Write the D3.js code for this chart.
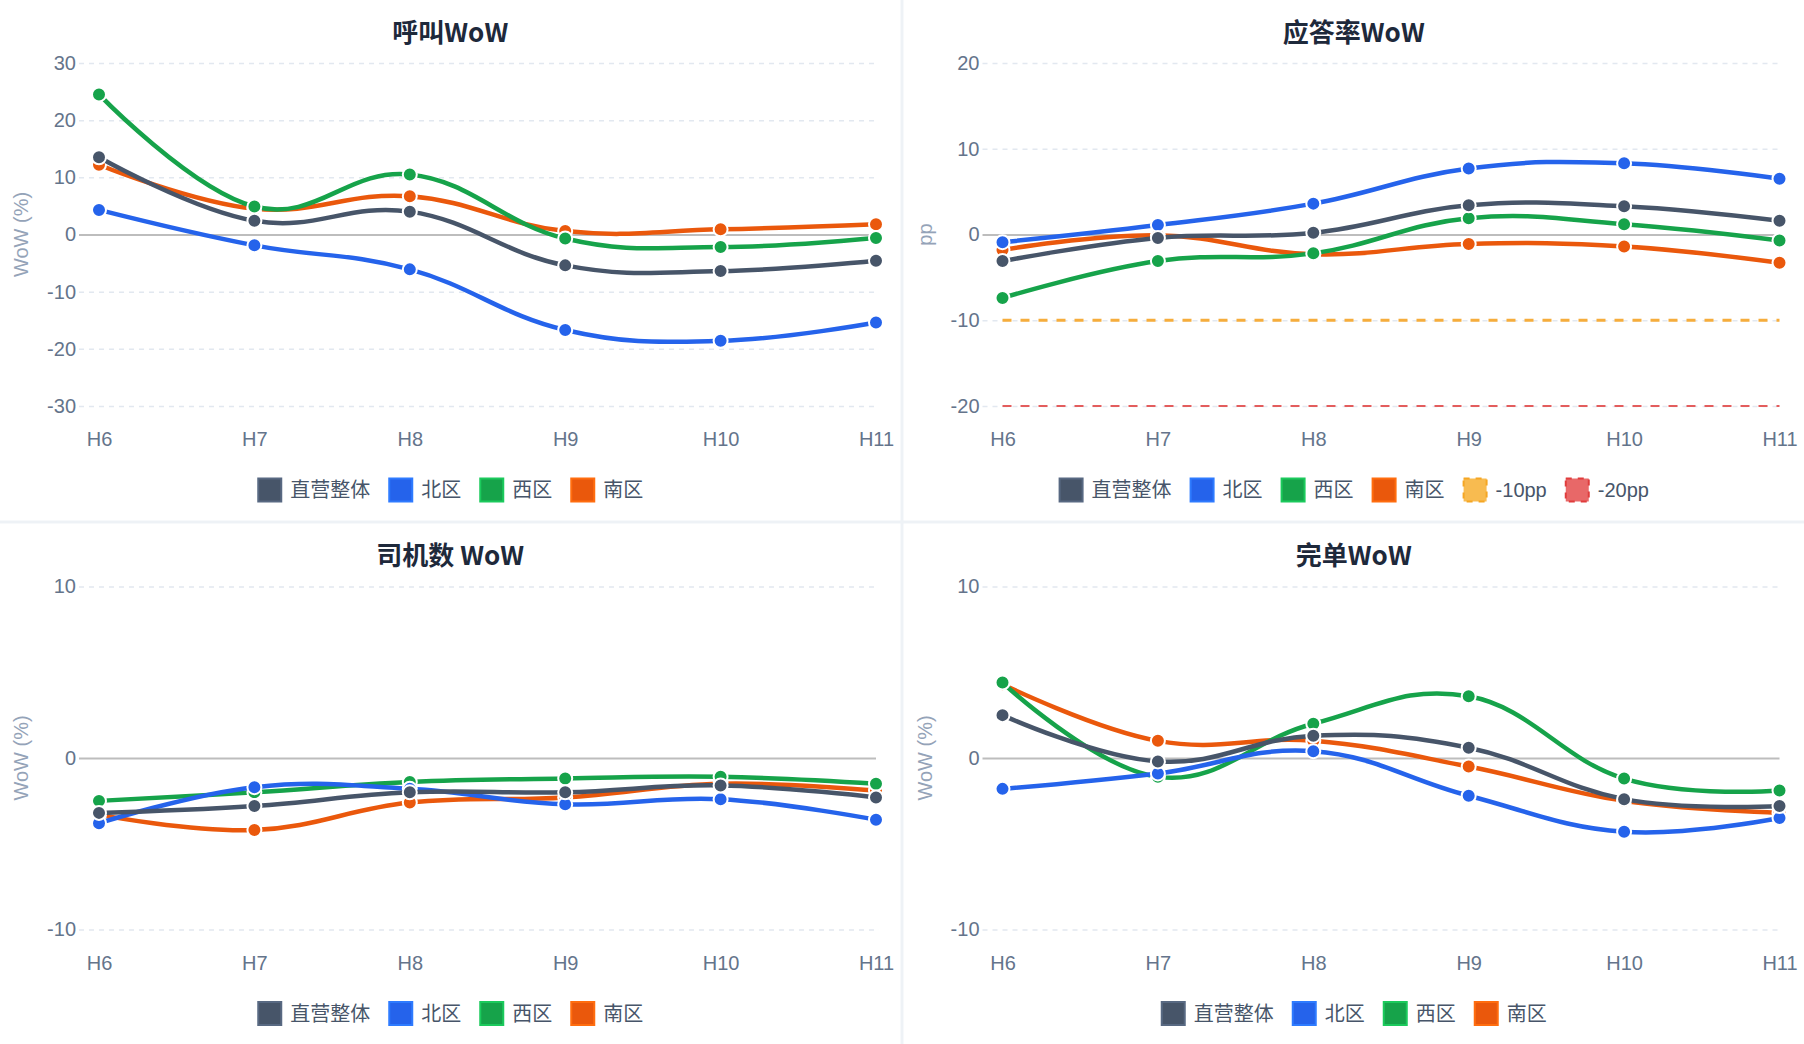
<!DOCTYPE html>
<html>
<head>
<meta charset="utf-8">
<script src="https://cdn.jsdelivr.net/npm/d3@7"></script>
<style>
  html, body { margin: 0; padding: 0; background: #eef2f6; }
  svg { display: block; }
  .tick text { font-family: "Liberation Sans", Arial, sans-serif; font-size: 20px; fill: #64748b; }
</style>
</head>
<body>
<svg id="board" width="1804" height="1044"></svg>
<script>
// categories and series
const hours = ["H6", "H7", "H8", "H9", "H10", "H11"];
const regions = ["直营整体", "北区", "西区", "南区"];
const regionColors = ["#475569", "#2563eb", "#16a34a", "#ea580c"];

// 呼叫WoW (%)
const callOverall = [13.5, 2.4, 4.0, -5.4, -6.4, -4.6];
const callNorth   = [4.3, -1.9, -6.1, -16.7, -18.6, -15.4];
const callWest    = [24.5, 4.9, 10.5, -0.7, -2.2, -0.6];
const callSouth   = [12.2, 4.5, 6.7, 0.6, 0.9, 1.8];

// 应答率WoW (pp)
const answerOverall = [-3.1, -0.4, 0.2, 3.4, 3.3, 1.6];
const answerNorth   = [-0.9, 1.1, 3.6, 7.7, 8.3, 6.5];
const answerWest    = [-7.4, -3.1, -2.2, 1.9, 1.2, -0.7];
const answerSouth   = [-1.8, -0.1, -2.3, -1.1, -1.4, -3.3];
const answerThresholds = [-10, -20];
const thresholdLabels = ["-10pp", "-20pp"];

// 司机数 WoW (%)
const driverOverall = [-3.2, -2.8, -2.0, -2.0, -1.6, -2.3];
const driverNorth   = [-3.8, -1.7, -1.8, -2.7, -2.4, -3.6];
const driverWest    = [-2.5, -2.0, -1.4, -1.2, -1.1, -1.5];
const driverSouth   = [-3.3, -4.2, -2.6, -2.3, -1.5, -1.9];

// 完单WoW (%)
const doneOverall = [2.5, -0.2, 1.3, 0.6, -2.4, -2.8];
const doneNorth   = [-1.8, -0.9, 0.4, -2.2, -4.3, -3.5];
const doneWest    = [4.4, -1.1, 2.0, 3.6, -1.2, -1.9];
const doneSouth   = [4.3, 1.0, 1.0, -0.5, -2.5, -3.2];

const yTicksWide = [-30, -20, -10, 0, 10, 20, 30];
const yTicksMid = [-20, -10, 0, 10, 20];
const yTicksNarrow = [-10, 0, 10];

const panels = [
  { title: "呼叫WoW", yLabel: "WoW (%)", ticks: yTicksWide,
    series: [callOverall, callNorth, callWest, callSouth] },
  { title: "应答率WoW", yLabel: "pp", ticks: yTicksMid,
    series: [answerOverall, answerNorth, answerWest, answerSouth], thresholds: true },
  { title: "司机数 WoW", yLabel: "WoW (%)", ticks: yTicksNarrow,
    series: [driverOverall, driverNorth, driverWest, driverSouth] },
  { title: "完单WoW", yLabel: "WoW (%)", ticks: yTicksNarrow,
    series: [doneOverall, doneNorth, doneWest, doneSouth] }
];

const thresholdStyles = [
  { stroke: "#f6ad3c", width: 3, fill: "#f8bb50", border: "#f5a623" },
  { stroke: "#e35d5d", width: 2, fill: "#e86868", border: "#e03c3c" }
];

const W = 1804, H = 1044, gap = 3;
const pw = (W - gap) / 2, ph = (H - gap) / 2;

const svg = d3.select("#board");

panels.forEach((p, i) => {
  let col = i % 2, row = Math.floor(i / 2);
  let g = svg.append("g")
    .attr("transform", `translate(${col * (pw + gap)}, ${row * (ph + gap)})`);
  drawPanel(g, p);
});

function drawPanel(g, p) {
  g.append("rect").attr("width", pw).attr("height", ph).attr("fill", "#fff");

  let x = d3.scalePoint().domain(hours).range([99, 876]);
  let y = d3.scaleLinear()
    .domain(d3.extent(p.ticks))
    .range([406, 63]);

  // title
  g.append("text")
    .attr("x", pw / 2).attr("y", 30)
    .attr("text-anchor", "middle").attr("dominant-baseline", "central")
    .style("font-family", '"Noto Sans CJK SC", sans-serif')
    .style("font-size", "26px").style("font-weight", "bold")
    .style("fill", "#1e293b")
    .text(p.title);

  // y axis + grid
  let yAxis = d3.axisLeft(y).tickValues(p.ticks)
    .tickFormat(d => String(d))
    .tickSize(-(876 - 79)).tickPadding(3);
  let yg = g.append("g").attr("transform", "translate(79, 0)").call(yAxis);
  yg.select(".domain").remove();
  yg.selectAll(".tick line")
    .attr("stroke", "#e2e8f0").attr("stroke-width", 1.5)
    .attr("stroke-dasharray", "5 5");
  yg.selectAll(".tick").filter(d => d === 0).select("line")
    .attr("stroke", "#bdbdbd").attr("stroke-width", 2)
    .attr("stroke-dasharray", null);

  // y title
  g.append("text")
    .attr("transform", `translate(21, ${(63 + 406) / 2}) rotate(-90)`)
    .attr("text-anchor", "middle").attr("dominant-baseline", "central")
    .style("font-family", '"Liberation Sans", Arial, sans-serif')
    .style("font-size", "20px").style("fill", "#94a3b8")
    .text(p.yLabel);

  // x axis
  let xAxis = d3.axisBottom(x).tickSize(0).tickPadding(0);
  let xg = g.append("g").attr("transform", "translate(0, 439)").call(xAxis);
  xg.select(".domain").remove();
  xg.selectAll(".tick text").attr("y", 0).attr("dy", "0.35em");

  // threshold lines
  if (p.thresholds) {
    answerThresholds.forEach((t, k) => {
      g.append("line")
        .attr("x1", x(hours[0])).attr("x2", x(hours[hours.length - 1]))
        .attr("y1", y(t)).attr("y2", y(t))
        .attr("stroke", thresholdStyles[k].stroke)
        .attr("stroke-width", thresholdStyles[k].width)
        .attr("stroke-dasharray", "9 9");
    });
  }

  // series: draw last first so the first one sits on top
  let line = d3.line()
    .x((d, i) => x(hours[i]))
    .y(d => y(d))
    .curve(d3.curveCardinal.tension(-0.2));

  for (let s = p.series.length - 1; s >= 0; s--) {
    let values = p.series[s];
    let sg = g.append("g");
    sg.append("path")
      .attr("d", line(values))
      .attr("fill", "none")
      .attr("stroke", regionColors[s])
      .attr("stroke-width", 4.5)
      .attr("stroke-linejoin", "round");
    sg.selectAll("circle").data(values).enter().append("circle")
      .attr("cx", (d, i) => x(hours[i]))
      .attr("cy", d => y(d))
      .attr("r", 7)
      .attr("fill", regionColors[s])
      .attr("stroke", "#fff")
      .attr("stroke-width", 2);
  }

  // legend
  let items = regions.map((name, k) => ({ name, fill: regionColors[k], border: regionColors[k], dashed: false }));
  if (p.thresholds) {
    thresholdLabels.forEach((name, k) => items.push({
      name, fill: thresholdStyles[k].fill, border: thresholdStyles[k].border, dashed: true
    }));
  }

  let lg = g.append("g");
  let cursor = 0;
  items.forEach(it => {
    let ig = lg.append("g").attr("transform", `translate(${cursor}, 0)`);
    ig.append("rect")
      .attr("x", 1).attr("y", -11.5)
      .attr("width", 23).attr("height", 23)
      .attr("fill", it.fill)
      .attr("stroke", it.dashed ? it.border : d3.color(it.border).brighter(0.6))
      .attr("stroke-width", 2)
      .attr("stroke-dasharray", it.dashed ? "6 6" : null);
    let t = ig.append("text")
      .attr("x", 33).attr("y", 0)
      .attr("dominant-baseline", "central")
      .style("font-family", '"Liberation Sans", Arial, "Noto Sans CJK SC", sans-serif')
      .style("font-size", "20px").style("fill", "#475569")
      .text(it.name);
    cursor += 33 + t.node().getComputedTextLength() + 18;
  });
  let legendWidth = cursor - 18;
  lg.attr("transform", `translate(${(pw - legendWidth) / 2}, 490)`);
}
</script>
</body>
</html>
